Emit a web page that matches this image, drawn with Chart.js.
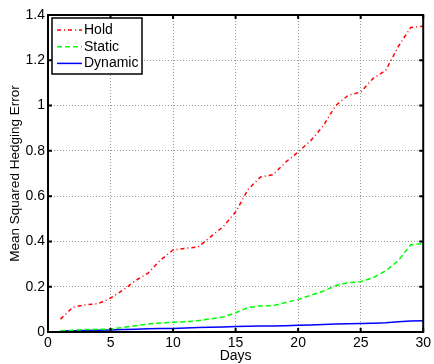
<!DOCTYPE html>
<html>
<head>
<meta charset="utf-8">
<script src="https://cdn.jsdelivr.net/npm/chart.js@4"></script>
<style>
  html, body { margin: 0; padding: 0; background: #fff; }
  #wrap { width: 434px; height: 364px; }
</style>
</head>
<body>
<div id="wrap"><canvas id="hedgeChart" width="434" height="364"></canvas></div>
<script>
// Values (days 1..30)
const days = [1, 2, 3, 4, 5, 6, 7, 8, 9, 10, 11, 12, 13, 14, 15,
              16, 17, 18, 19, 20, 21, 22, 23, 24, 25, 26, 27, 28, 29, 30];
const holdErr = [0.057, 0.11, 0.12, 0.125, 0.15, 0.185, 0.227, 0.26, 0.318, 0.362,
                 0.37, 0.375, 0.42, 0.465, 0.53, 0.63, 0.685, 0.695, 0.75, 0.795,
                 0.845, 0.91, 1.0, 1.045, 1.06, 1.12, 1.155, 1.26, 1.345, 1.35];
const staticErr = [0.005, 0.008, 0.011, 0.012, 0.013, 0.02, 0.028, 0.035, 0.04, 0.043,
                   0.045, 0.05, 0.058, 0.066, 0.085, 0.108, 0.115, 0.116, 0.13, 0.144,
                   0.162, 0.18, 0.205, 0.218, 0.222, 0.24, 0.27, 0.315, 0.385, 0.39];
const dynamicErr = [0.004, 0.006, 0.007, 0.008, 0.009, 0.011, 0.012, 0.014, 0.015, 0.016,
                    0.018, 0.02, 0.021, 0.022, 0.024, 0.025, 0.026, 0.027, 0.028, 0.03,
                    0.031, 0.033, 0.035, 0.036, 0.037, 0.039, 0.041, 0.045, 0.049, 0.05];
const seriesNames = ['Hold', 'Static', 'Dynamic'];

const FONT = '"Liberation Sans", Arial, Helvetica, sans-serif';

function toPoints(ys) {
    return days.map((d, i) => ({ x: d, y: ys[i] }));
}

// MATLAB-like box around the axes with inward ticks on all four sides
const axesFrame = {
    id: 'axesFrame',
    afterDatasetsDraw(chart) {
        const ctx = chart.ctx;
        const a = chart.chartArea;
        const xs = chart.scales.x, ys = chart.scales.y;
        ctx.save();
        ctx.strokeStyle = '#000';
        ctx.lineWidth = 2;
        ctx.setLineDash([]);
        ctx.strokeRect(a.left, a.top, a.right - a.left, a.bottom - a.top);
        ctx.beginPath();
        xs.ticks.forEach(t => {
            const px = xs.getPixelForValue(t.value);
            ctx.moveTo(px, a.bottom); ctx.lineTo(px, a.bottom - 4);
            ctx.moveTo(px, a.top); ctx.lineTo(px, a.top + 4);
        });
        ys.ticks.forEach(t => {
            const py = ys.getPixelForValue(t.value);
            ctx.moveTo(a.left, py); ctx.lineTo(a.left + 4, py);
            ctx.moveTo(a.right, py); ctx.lineTo(a.right - 4, py);
        });
        ctx.stroke();
        ctx.restore();
    }
};

// Boxed legend in the upper-left corner of the plot
const boxLegend = {
    id: 'boxLegend',
    afterDraw(chart) {
        const ctx = chart.ctx;
        const a = chart.chartArea;
        const x0 = a.left + 4, y0 = a.top + 3, w = 90, h = 56;
        ctx.save();
        ctx.fillStyle = '#fff';
        ctx.fillRect(x0, y0, w, h);
        ctx.strokeStyle = '#000';
        ctx.lineWidth = 1.5;
        ctx.strokeRect(x0, y0, w, h);
        chart.data.datasets.forEach((ds, i) => {
            const y = y0 + 12 + i * 16.7;
            ctx.beginPath();
            ctx.setLineDash(ds.borderDash || []);
            ctx.strokeStyle = ds.borderColor;
            ctx.lineWidth = ds.borderWidth;
            ctx.moveTo(x0 + 5, y);
            ctx.lineTo(x0 + 30, y);
            ctx.stroke();
            ctx.setLineDash([]);
            ctx.fillStyle = '#000';
            ctx.font = '14px ' + FONT;
            ctx.textBaseline = 'middle';
            ctx.textAlign = 'left';
            ctx.fillText(ds.label, x0 + 32, y);
        });
        ctx.restore();
    }
};

const ctx = document.getElementById('hedgeChart').getContext('2d');
new Chart(ctx, {
    type: 'line',
    data: {
        datasets: [
            {
                label: seriesNames[0],
                data: toPoints(holdErr),
                borderColor: '#ff0000',
                borderWidth: 1.5,
                borderDash: [4, 3, 1, 3]
            },
            {
                label: seriesNames[1],
                data: toPoints(staticErr),
                borderColor: '#00ff00',
                borderWidth: 1.5,
                borderDash: [5, 3]
            },
            {
                label: seriesNames[2],
                data: toPoints(dynamicErr),
                borderColor: '#0000ff',
                borderWidth: 1.5
            }
        ]
    },
    options: {
        responsive: false,
        animation: false,
        layout: { padding: { top: 15, right: 8, left: 0, bottom: 0 } },
        elements: { point: { radius: 0 }, line: { tension: 0, fill: false } },
        plugins: {
            legend: { display: false },
            tooltip: { enabled: false }
        },
        scales: {
            x: {
                type: 'linear',
                min: 0,
                max: 30,
                afterFit: s => { s.height = 32; },
                ticks: { stepSize: 5, color: '#000', padding: 3, maxRotation: 0,
                         font: { family: FONT, size: 14 } },
                grid: { color: '#999', drawTicks: false, lineWidth: 1 },
                border: { display: false, dash: [1, 2] },
                title: { display: true, text: 'Days', color: '#000',
                         padding: { top: 0, bottom: -1 },
                         font: { family: FONT, size: 14 } }
            },
            y: {
                min: 0,
                max: 1.4,
                afterFit: s => { s.width = 48; },
                ticks: { stepSize: 0.2, color: '#000', padding: 3,
                         callback: v => String(Number(v.toFixed(1))),
                         font: { family: FONT, size: 14 } },
                grid: { color: '#999', drawTicks: false, lineWidth: 1 },
                border: { display: false, dash: [1, 2] },
                title: { display: true, text: 'Mean Squared Hedging Error', color: '#000',
                         padding: { top: 7, bottom: 0 },
                         font: { family: FONT, size: 13.5 } }
            }
        }
    },
    plugins: [axesFrame, boxLegend]
});
</script>
</body>
</html>
